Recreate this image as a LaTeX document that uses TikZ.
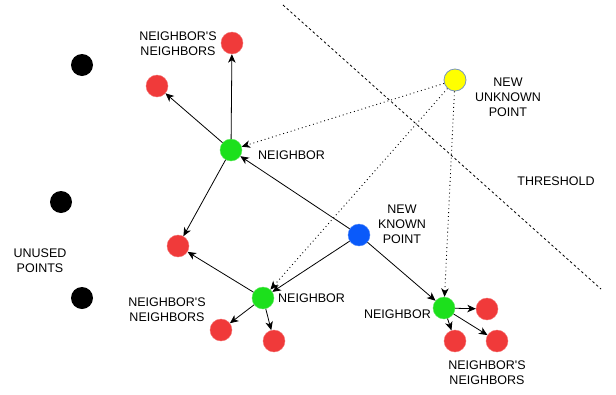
\documentclass[tikz,border=0pt]{standalone}
\usepackage{fontspec}
\setmainfont{Liberation Sans}
\usetikzlibrary{arrows.meta}
\definecolor{ptred}{RGB}{240,58,58}
\definecolor{ptgreen}{RGB}{28,224,28}
\definecolor{ptblue}{RGB}{10,90,250}
\definecolor{ptyellow}{RGB}{255,255,0}
\definecolor{ptrim}{RGB}{120,150,190}
\tikzset{
  pt/.style={circle,minimum size=22pt,inner sep=0pt},
  unused/.style={pt,fill=black},
  nbr/.style={pt,fill=ptgreen,draw=ptgreen!70!white,thin},
  nbrnbr/.style={pt,fill=ptred,draw=ptred!70!white,thin},
  known/.style={pt,fill=ptblue,draw=ptblue!70!white,thin},
  unknown/.style={pt,fill=ptyellow,draw=ptrim,thick},
  lbl/.style={align=center,font=\fontsize{12.5}{15}\selectfont,inner sep=0pt},
  link/.style={-{Stealth[length=8.5pt,width=7.5pt,inset=2.5pt]},line width=0.8pt},
  guess/.style={link,line width=0.9pt,dash pattern=on 0.9pt off 3pt}
}
\newcommand{\nbrs}{NEIGHBOR\textquotesingle S\\NEIGHBORS}
\begin{document}
\begin{tikzpicture}[x=1pt,y=-1pt]
      \useasboundingbox (0,0) rectangle (616,394);
      % threshold
      \draw[line width=0.8pt,dash pattern=on 2.5pt off 2.5pt] (283,5) -- (601,289);
      \draw
        (82,65) node[unused] (u1){}
        (61,202) node[unused] (u2){}
        (82,298) node[unused] (u3){}
        (232,43) node[nbrnbr] (r1){}
        (157,86) node[nbrnbr] (r2){}
        (178,246) node[nbrnbr] (r3){}
        (221,330) node[nbrnbr] (r4){}
        (274,341) node[nbrnbr] (r5){}
        (487,309) node[nbrnbr] (r6){}
        (455,341) node[nbrnbr] (r7){}
        (497,341) node[nbrnbr] (r8){}
        (231,150) node[nbr] (n1){}
        (263,298) node[nbr] (n2){}
        (444,308) node[nbr] (n3){}
        (359,235) node[known] (k){}
        (455,80) node[unknown] (q){};
      % labels
      \node[lbl] at (178,44) {\nbrs};
      \node[lbl,anchor=west] at (258,155) {NEIGHBOR};
      \node[lbl] at (508,97) {NEW\\UNKNOWN\\POINT};
      \node[lbl] at (556,181) {THRESHOLD};
      \node[lbl] at (402,224) {NEW\\KNOWN\\POINT};
      \node[lbl,anchor=west] at (278,298) {NEIGHBOR};
      \node[lbl] at (167,310) {\nbrs};
      \node[lbl] at (40,261) {UNUSED\\POINTS};
      \node[lbl,anchor=east] at (431,314) {NEIGHBOR};
      \node[lbl] at (487,373) {\nbrs};
      \begin{scope}[link]
        \draw (n1) to (r1);
        \draw (n1) to (r2);
        \draw (n1) to (r3);
        \draw (n2) to (r3);
        \draw (n2) to (r4);
        \draw (n2) to (r5);
        \draw (n3) to (r6);
        \draw (n3) to (r7);
        \draw (n3) to (r8);
        \draw (k) to (n1);
        \draw (k) to (n2);
        \draw (k) to (n3);
      \end{scope}
      \begin{scope}[guess]
        \draw (q) to (n1);
        \draw (q) to (n2);
        \draw (q) to (n3);
      \end{scope}
    \end{tikzpicture}
\end{document}
